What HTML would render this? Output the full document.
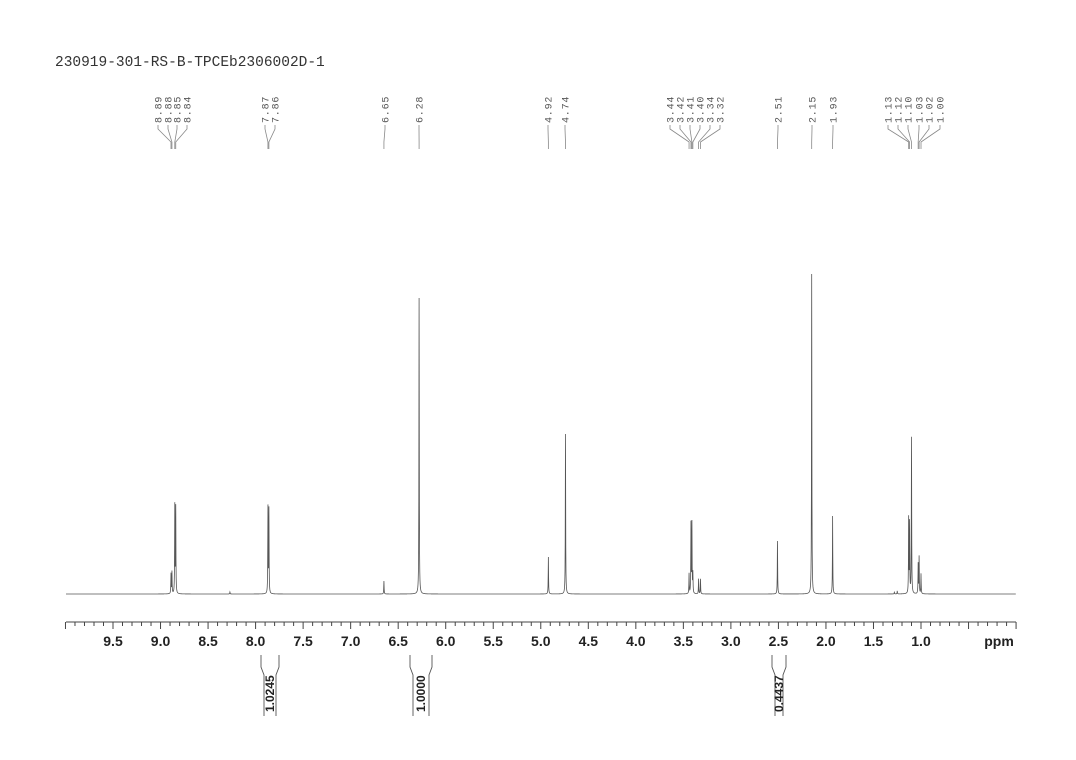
<!DOCTYPE html>
<html><head><meta charset="utf-8"><style>
html,body{margin:0;padding:0;background:#fff;}
svg{display:block;}
</style></head><body>
<svg id="s" width="1076" height="760" xmlns="http://www.w3.org/2000/svg">
<rect width="1076" height="760" fill="#fff"/>
<text x="55" y="66" font-family="Liberation Mono, monospace" font-size="14.5" fill="#333">230919-301-RS-B-TPCEb2306002D-1</text>
<g id="axis" stroke="#444" stroke-width="1" fill="none"></g>
<g id="ticklabels" font-family="Liberation Sans, sans-serif" font-weight="bold" font-size="14" fill="#222" text-anchor="middle"></g>
<g id="plabels" font-family="Liberation Mono, monospace" font-size="10" letter-spacing="0.8" fill="#555"></g>
<g id="plines" stroke="#888" stroke-width="0.8" fill="none"></g>
<path id="spec" fill="none" stroke="#555" stroke-width="0.8"/>
<g id="integ" stroke="#555" stroke-width="0.9" fill="none"></g>
<g id="ilab" font-family="Liberation Sans, sans-serif" font-weight="bold" font-size="12" fill="#222"></g>
</svg>
<script>
const NS="http://www.w3.org/2000/svg";
function X(p){return 113+(9.5-p)*95.06;}
function el(parent,tag,attrs,txt){const e=document.createElementNS(NS,tag);for(const k in attrs)e.setAttribute(k,attrs[k]);if(txt!==undefined)e.textContent=txt;document.getElementById(parent).appendChild(e);return e;}
el('axis','line',{x1:66,y1:622,x2:1016,y2:622});
for(let i=0;i<=100;i++){const p=10-i*0.1;const x=X(p);const major=(i%5===0);el('axis','line',{x1:x,y1:622,x2:x,y2:major?629:626});}
for(let p=9.5;p>=0.99;p-=0.5){el('ticklabels','text',{x:X(p),y:646},p.toFixed(1));}
el('ticklabels','text',{x:999,y:646},'ppm');
const groups=[
 {labs:[[8.89,158],[8.88,168],[8.85,177],[8.84,187]]},
 {labs:[[7.87,265],[7.86,275]]},
 {labs:[[6.65,385]]},{labs:[[6.28,419]]},{labs:[[4.92,548]]},{labs:[[4.74,565]]},
 {labs:[[3.44,670],[3.42,680],[3.41,690],[3.40,700],[3.34,710],[3.32,720]]},
 {labs:[[2.51,778]]},{labs:[[2.15,812]]},{labs:[[1.93,833]]},
 {labs:[[1.13,888],[1.12,898],[1.10,908],[1.03,919],[1.02,929],[1.00,940]]}
];
for(const g of groups){for(const [p,lx] of g.labs){
 el('plabels','text',{transform:`translate(${lx+3.5},${123}) rotate(-90)`},p.toFixed(2));
 const px=X(p);
 el('plines','path',{d:`M${lx},125 L${lx},129 L${px},142 L${px},149`});
}}
const peaks=[[8.89,20],[8.88,22],[8.85,88],[8.84,86],[7.87,86],[7.86,84],[6.65,13],[6.28,296],[4.92,37],[4.74,160],
[3.44,20],[3.42,70],[3.41,70],[3.40,20],[3.34,15],[3.32,15],[2.51,53],[2.15,320],[1.93,78],
[1.13,75],[1.12,70],[1.10,156],[1.03,30],[1.02,37],[1.00,20],[8.27,2],[1.25,3],[1.28,2]];
const w=0.2;
let xs=[];for(let x=66;x<=1016;x+=0.2)xs.push(x);
for(const [p] of peaks)xs.push(X(p));
xs.sort((a,b)=>a-b);
let d='';
for(const x of xs){let y=594;for(const [p,h] of peaks){const dx=x-X(p);y-=h*w*w/(dx*dx+w*w);}
 d+=(d?'L':'M')+x.toFixed(2)+','+y.toFixed(2);}
document.getElementById('spec').setAttribute('d',d);
function integ(x1,x2,y0,lab){
 const m=(x1+x2)/2;
 el('integ','path',{d:`M${x1},${y0} L${x1},${y0+12} L${x1+3},${y0+20} L${x1+3},716`});
 el('integ','path',{d:`M${x2},${y0} L${x2},${y0+12} L${x2-3},${y0+20} L${x2-3},716`});
 el('ilab','text',{transform:`translate(${m+4},${712}) rotate(-90)`},lab);
}
integ(261,279,655,'1.0245');
integ(410,432,655,'1.0000');
integ(772,786,655,'0.4437');
</script>
</body></html>
